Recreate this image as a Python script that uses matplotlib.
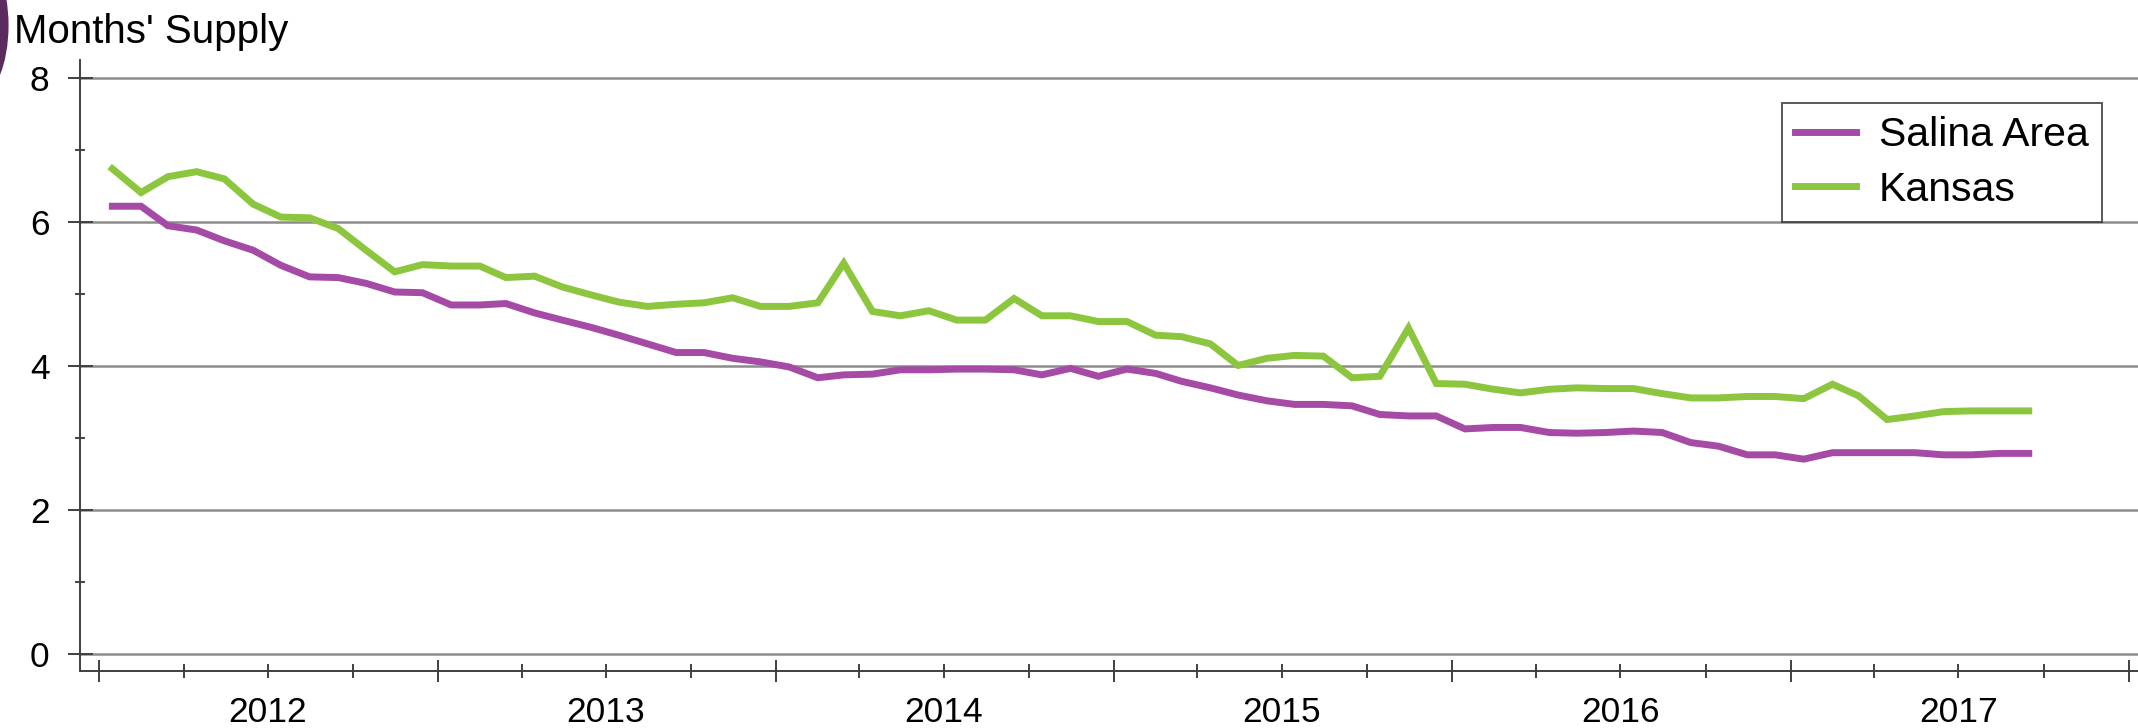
import numpy as np
import pandas as pd
import matplotlib
matplotlib.use("Agg")
import matplotlib.pyplot as plt
import matplotlib.dates as mdates
from matplotlib.patches import Ellipse
from matplotlib.ticker import FuncFormatter, MultipleLocator

plt.rcParams['font.family'] = ['Liberation Sans', 'DejaVu Sans']

# monthly months' supply, Jan 2012 .. Sep 2017
start_month = "2012-01-01"
salina = [6.22, 6.22, 5.95, 5.89, 5.74, 5.61, 5.40, 5.24, 5.23, 5.15, 5.03, 5.02,
          4.85, 4.85, 4.87, 4.74, 4.64, 4.54, 4.43, 4.31, 4.19, 4.19, 4.11, 4.06,
          3.99, 3.84, 3.88, 3.89, 3.95, 3.95, 3.96, 3.96, 3.95, 3.88, 3.97, 3.86,
          3.96, 3.90, 3.79, 3.70, 3.60, 3.52, 3.47, 3.47, 3.45, 3.33, 3.31, 3.31,
          3.13, 3.15, 3.15, 3.08, 3.07, 3.08, 3.10, 3.08, 2.94, 2.89, 2.77, 2.77,
          2.71, 2.80, 2.80, 2.80, 2.80, 2.77, 2.77, 2.79, 2.79]
kansas = [6.74, 6.41, 6.63, 6.70, 6.60, 6.25, 6.07, 6.06, 5.91, 5.61, 5.31, 5.41,
          5.39, 5.39, 5.23, 5.25, 5.10, 4.99, 4.89, 4.83, 4.86, 4.88, 4.95, 4.83,
          4.83, 4.88, 5.43, 4.76, 4.70, 4.77, 4.64, 4.64, 4.94, 4.70, 4.70, 4.62,
          4.62, 4.43, 4.41, 4.31, 4.01, 4.11, 4.15, 4.14, 3.84, 3.86, 4.53, 3.76,
          3.75, 3.68, 3.63, 3.68, 3.70, 3.69, 3.69, 3.62, 3.56, 3.56, 3.58, 3.58,
          3.55, 3.75, 3.59, 3.26, 3.31, 3.37, 3.38, 3.38, 3.38]
series_names = ["Salina Area", "Kansas"]
series_colors = ["#a54aa5", "#8cc63e"]
y_ticks = [0, 2, 4, 6, 8]

# points drawn at mid-month
dates = pd.date_range(start_month, periods=len(salina), freq="MS") + pd.Timedelta(days=14)

fig = plt.figure(figsize=(21.38, 7.28), dpi=100)
ax = fig.add_axes([0.0374, 0.0783, 0.9626, 0.8393])

# bit of the slide background showing in the top-left corner
fig.patches.append(Ellipse((-0.011, 0.965), 0.03, 0.2, transform=fig.transFigure,
                           facecolor='#5b2a5e', edgecolor='none', zorder=0))

ax.plot(dates, salina, color=series_colors[0], lw=5, label=series_names[0],
        solid_joinstyle='miter', zorder=3)
ax.plot(dates, kansas, color=series_colors[1], lw=5, label=series_names[1],
        solid_joinstyle='miter', zorder=3)

ax.set_xlim(pd.Timestamp("2011-12-11"), pd.Timestamp("2018-01-11"))
ax.set_ylim(-0.23, 8.25)

ax.set_yticks(y_ticks)
ax.yaxis.set_minor_locator(MultipleLocator(1))
ax.yaxis.grid(True, which='major', color='#8c8c8c', lw=1.8, zorder=1)

ax.xaxis.set_major_locator(mdates.YearLocator())
ax.xaxis.set_major_formatter(FuncFormatter(lambda v, p: ""))
ax.xaxis.set_minor_locator(mdates.MonthLocator(bymonth=[4, 7, 10]))


def year_label(v, pos):
    d = mdates.num2date(v)
    return str(d.year) if d.month == 7 else ""


ax.xaxis.set_minor_formatter(FuncFormatter(year_label))

for s in ['top', 'right']:
    ax.spines[s].set_visible(False)
for s in ['left', 'bottom']:
    ax.spines[s].set_color('#404040')
    ax.spines[s].set_linewidth(1.4)

ax.tick_params(axis='y', which='major', direction='inout', length=18, width=1.4,
               color='#404040', labelsize=25.5, pad=13)
ax.tick_params(axis='y', which='minor', direction='inout', length=7, width=1.4,
               color='#404040')
ax.tick_params(axis='x', which='major', direction='inout', length=16.5, width=1.4,
               color='#404040')
ax.tick_params(axis='x', which='minor', direction='inout', length=9.4, width=1.4,
               color='#404040', labelsize=25.5, pad=13)

leg = ax.legend(loc='upper right', bbox_to_anchor=(0.9825, 0.9296), borderaxespad=0,
                fontsize=29.5, frameon=True, fancybox=False, handlelength=1.5,
                handletextpad=0.55, labelspacing=0.4, borderpad=0.32)
leg.get_frame().set_edgecolor('#303030')
leg.get_frame().set_linewidth(1.4)

fig.text(0.0065, 0.941, "Months' Supply", fontsize=29, ha='left', va='baseline')

fig.savefig("out.png", dpi=100)
